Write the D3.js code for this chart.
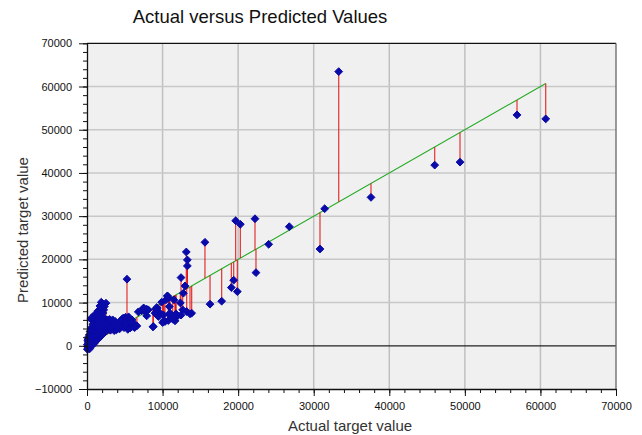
<!DOCTYPE html>
<html><head><meta charset="utf-8">
<script src="https://cdn.jsdelivr.net/npm/d3@7"></script>
<style>body{margin:0;background:#fff}svg{display:block}text{font-family:"Liberation Sans",Arial,sans-serif}</style>
</head><body>
<svg id="c" width="642" height="435"></svg>
<script>
const title = "Actual versus Predicted Values";
const xLabel = "Actual target value";
const yLabel = "Predicted target value";
const xTicks = [0,10000,20000,30000,40000,50000,60000,70000];
const yTicks = [-10000,0,10000,20000,30000,40000,50000,60000,70000];

const actual = [
33310,31450,30830,26770,37580,46010,49360,56900,60700,
15610,16280,17820,19670,20290,22230,22360,24040,19410,19100,19890,
13140,13280,13280,12440,12750,12970,10680,9880,12350,10890,12660,13190,13630,10890,11740,12440,9220,7900,
5290,8730,7450,6790,7680,7900,9310,9660,9440,10010,10320,10760,11650,10980,11690,
7230,9130,9000,10450,10760,10100,11340,8770,10630,11510,7540,8110,10190,11780,13850,
50,150,250,350,100,200,400,500,300,600,700,450,800,900,550,1000,1100,650,1200,1300,750,1400,1500,850,1600,1700,950,1800,1900,1050,2000,2100,1150,2200,2300,1250,2400,2500,1350,2600,2700,1450,2800,2900,1550,3000,3100,1650,3200,3300,1750,3400,3500,3600,3700,3800,3900,4000,4100,4200,4300,4630,4850,5290,5950,5510,6180,5700,6000,5400,4900,3310,3750,2870,1890,2510,1460,2210,1010,1700,2300,2100,1900,2400,2700,1200,800,600,400,300,200,150,500,700,2000,2200,1300,1000,1800,2600,3000,3400,4400,4700,5100,5500,6600,6300,5800,50,100,250
];
const predicted = [
63450,31720,22400,27560,34350,41810,42500,53430,52510,
23950,9630,10320,28940,28110,29400,16930,23490,15180,13470,12540,
21710,19870,18480,15780,12170,13860,11480,10090,9930,9080,8320,7930,7390,7160,6540,7090,8850,8480,
15410,4390,8700,7850,7920,6930,8700,7550,6780,5390,5610,5840,5770,7550,6400,
8150,8480,7550,10630,11020,7160,6170,4460,11550,10630,8700,8320,5840,7390,7550,
-800,-600,-300,-700,-200,200,-100,300,500,0,600,900,300,1000,1400,700,1500,1900,1100,1900,2400,1500,2300,2900,1800,2700,3300,2200,3100,3800,2600,3500,4300,2900,3900,4800,3300,4300,5300,3700,4700,5800,4000,5100,6300,4300,3600,6900,4800,5200,7400,4000,4600,3500,5000,4200,3700,4700,4080,5300,3900,5240,6400,5610,6000,4700,5240,4100,4500,3800,4200,5240,5610,4470,10090,9860,8080,8320,7160,9200,9100,7600,6700,6200,6000,5900,5000,4200,3300,2500,1700,900,6200,6600,5600,4700,2600,2300,3800,5300,6100,6000,5700,6300,6600,6700,4600,4200,5500,300,1300,2100
];

const svg = d3.select("#c");
const X0=87, X1=616, Y0=43.3, Y1=389;
const x = d3.scaleLinear().domain([0,70000]).range([X0,X1]);
const y = d3.scaleLinear().domain([-10000,70000]).range([Y1,Y0]);

svg.append("rect").attr("x",X0).attr("y",Y0).attr("width",X1-X0).attr("height",Y1-Y0).attr("fill","#f0f0f0");

// grid
svg.append("g").selectAll("line").data(xTicks.slice(1,-1)).join("line")
  .attr("x1",d=>x(d)).attr("x2",d=>x(d)).attr("y1",Y0).attr("y2",Y1)
  .attr("stroke","#c0c0c0").attr("stroke-width",1.5);
svg.append("g").selectAll("line").data(yTicks.slice(1,-1).filter(d=>d!==0)).join("line")
  .attr("x1",X0).attr("x2",X1).attr("y1",d=>y(d)).attr("y2",d=>y(d))
  .attr("stroke","#c8c8c8").attr("stroke-width",1.5);
svg.append("line").attr("x1",X0).attr("x2",X1).attr("y1",y(0)).attr("y2",y(0)).attr("stroke","#222").attr("stroke-width",1.2);

// borders
svg.append("line").attr("x1",X0).attr("x2",X1).attr("y1",Y0).attr("y2",Y0).attr("stroke","#111").attr("stroke-width",1.3);
svg.append("line").attr("x1",X1).attr("x2",X1).attr("y1",Y0).attr("y2",Y1).attr("stroke","#666").attr("stroke-width",1.3);

// identity line
const lo = d3.min(actual), hi = d3.max(actual);
svg.append("line").attr("x1",x(lo)).attr("y1",y(lo)).attr("x2",x(hi)).attr("y2",y(hi))
  .attr("stroke","#22aa22").attr("stroke-width",1.1);

// residuals
const pts = actual.map((a,i)=>({a, p:predicted[i]}));
svg.append("g").selectAll("line").data(pts).join("line")
  .attr("x1",d=>x(d.a)).attr("x2",d=>x(d.a)).attr("y1",d=>y(d.a)).attr("y2",d=>y(d.p))
  .attr("stroke","#e01010").attr("stroke-opacity",0.85).attr("stroke-width",1.2);

// points
svg.append("g").selectAll("path").data(pts).join("path")
  .attr("d","M0,-3.9L3.9,0L0,3.9L-3.9,0Z")
  .attr("transform",d=>`translate(${x(d.a)},${y(d.p)})`)
  .attr("fill","#0a0aa8").attr("stroke","#0a0aa8").attr("stroke-width",1).attr("stroke-linejoin","round");

// axes
const fmt = d3.format("d");
const yMinor = d3.range(-10000,70001,2000);
const xMinor = d3.range(0,70001,2000);
svg.append("g").attr("transform",`translate(${X0},0)`)
  .call(d3.axisLeft(y).tickValues(yMinor).tickSize(4).tickFormat(""))
  .call(g=>g.select(".domain").remove());
svg.append("g").attr("transform",`translate(0,${Y1})`)
  .call(d3.axisBottom(x).tickValues(xMinor).tickSize(4).tickFormat(""))
  .call(g=>g.select(".domain").remove());
const ya = svg.append("g").attr("transform",`translate(${X0},0)`)
  .call(d3.axisLeft(y).tickValues(yTicks).tickSize(8).tickPadding(7).tickFormat(fmt).tickSizeOuter(0));
const xa = svg.append("g").attr("transform",`translate(0,${Y1})`)
  .call(d3.axisBottom(x).tickValues(xTicks).tickSize(7).tickPadding(6).tickFormat(fmt).tickSizeOuter(0));
[ya,xa].forEach(g=>{
  g.selectAll("text").attr("font-size",11).attr("fill","#111").attr("font-family","'Liberation Sans',Arial,sans-serif");
  g.selectAll("line").attr("stroke","#111");
  g.select(".domain").attr("stroke","#111").attr("stroke-width",1.3);
});
svg.selectAll(".tick line").attr("stroke","#111");

// titles
svg.append("text").attr("x",260).attr("y",23).attr("text-anchor","middle").attr("font-size",18.5).attr("fill","#111").text(title);
svg.append("text").attr("x",350).attr("y",431).attr("text-anchor","middle").attr("font-size",15).attr("fill","#333").text(xLabel);
svg.append("text").attr("transform","translate(28,230) rotate(-90)").attr("text-anchor","middle").attr("font-size",15).attr("fill","#333").text(yLabel);
</script>
</body></html>
